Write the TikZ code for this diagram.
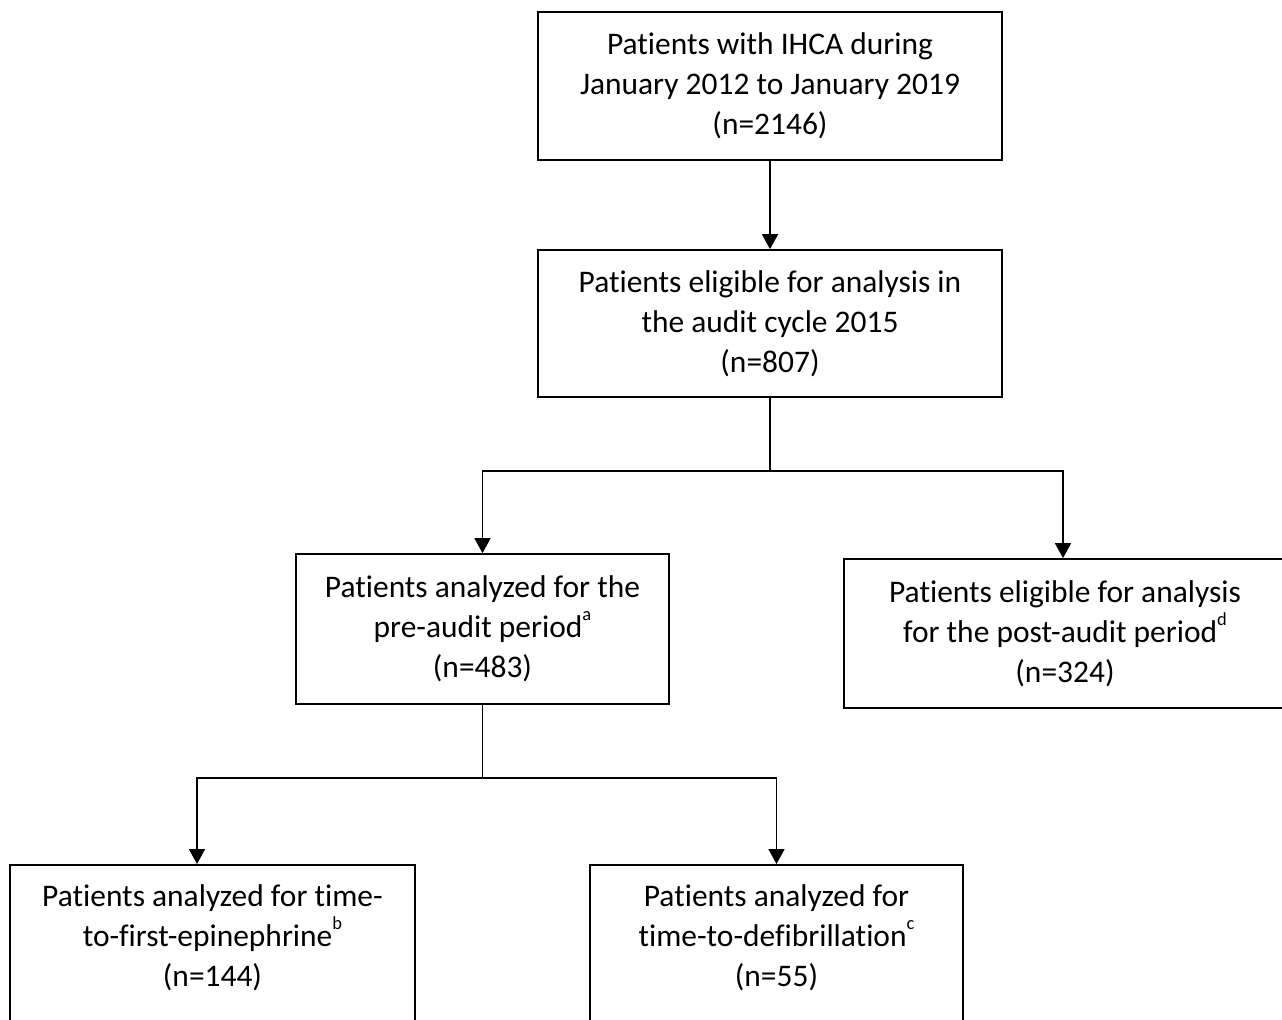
\documentclass[tikz,border=0pt]{standalone}
\usepackage{fontspec}
\setmainfont{Carlito}[Ligatures=CommonOff]
\usetikzlibrary{arrows.meta}
\newcommand{\fnmark}[1]{\raisebox{0.54em}{\fontsize{10.5pt}{11pt}\selectfont #1}}

\tikzset{
  flowbox/.style={draw, line width=1pt, align=center, inner xsep=4pt, inner ysep=9pt,
    font=\fontsize{17.9pt}{22.7pt}\selectfont},
  flowarrow/.style={line width=1pt, -{Triangle[length=0.3cm,width=0.32cm]}}
}

\begin{document}
\begin{tikzpicture}[x=0.02cm,y=-0.02cm]
\useasboundingbox (0,0) rectangle (1282,1019);

% Top boxes
\node[flowbox, minimum width=9.28cm, minimum height=2.96cm] (ihca) at (770,86)
  {Patients with IHCA during\\January 2012 to January 2019\\(n=2146)};
\node[flowbox, minimum width=9.28cm, minimum height=2.94cm] (elig) at (770,323.5)
  {Patients eligible for analysis in\\the audit cycle 2015\\(n=807)};
\draw[flowarrow] (ihca.south) -- (elig.north);

% Pre- and post-audit
\coordinate (split1) at (772,471);
\node[flowbox, minimum width=7.46cm, minimum height=3cm] (pre) at (482.5,629)
  {Patients analyzed for the\\pre-audit period\fnmark{a}\\(n=483)};
\node[flowbox, minimum width=8.84cm, minimum height=2.98cm] (post) at (1065,633.5)
  {Patients eligible for analysis\\for the post-audit period\fnmark{d}\\(n=324)};
\draw[line width=1pt] (elig.south) -- (elig.south |- split1);
\draw[flowarrow] (elig.south |- split1) -| (pre.north);
\draw[flowarrow] (elig.south |- split1) -| ([xshift=-0.04cm]post.north);

% Epinephrine and defibrillation
\coordinate (split2) at (486,778);
\node[flowbox, anchor=north, minimum width=8.1cm, inner ysep=11.5pt] (epi) at (212.5,864)
  {Patients analyzed for time-\\to-first-epinephrine\fnmark{b}\\(n=144)\rule[-1cm]{0pt}{0pt}};
\node[flowbox, anchor=north, minimum width=7.46cm, inner ysep=11.5pt] (defib) at (776.5,864)
  {Patients analyzed for\\time-to-defibrillation\fnmark{c}\\(n=55)\rule[-1cm]{0pt}{0pt}};
\draw[line width=1pt] (pre.south) -- (pre.south |- split2);
\draw[flowarrow] (pre.south |- split2) -| ([xshift=-0.31cm]epi.north);
\draw[flowarrow] (pre.south |- split2) -| (defib.north);
\end{tikzpicture}
\end{document}
